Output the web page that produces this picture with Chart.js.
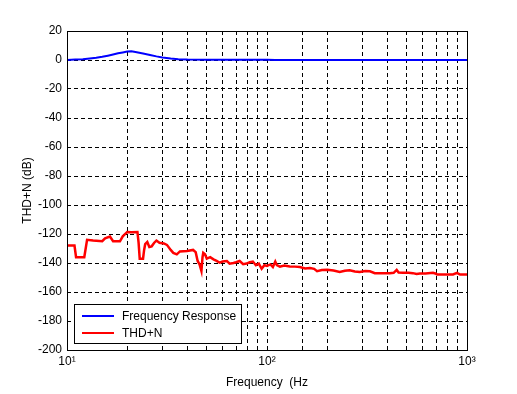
<!DOCTYPE html>
<html>
<head>
<meta charset="utf-8">
<script src="https://cdn.jsdelivr.net/npm/chart.js@4"></script>
<style>
  html, body { margin: 0; padding: 0; background: #fff; }
  #wrap { width: 517px; height: 394px; }
</style>
</head>
<body>
<div id="wrap"><canvas id="thdChart" width="517" height="394"></canvas></div>
<script>
// ---- data ----
const seriesNames = ["Frequency Response", "THD+N"];

const respFreq = [10, 11, 12, 13, 14, 15, 16, 17, 18, 19, 20, 21, 22, 24, 26, 28, 30, 33, 36, 40, 50, 60, 80, 100, 110, 200, 500, 1000];
const respDb   = [0, 0.3, 0.5, 1, 1.5, 2.2, 3, 3.8, 4.6, 5.2, 5.8, 6, 5.5, 4.5, 3.5, 2.5, 1.8, 1, 0.5, 0.3, 0.2, 0.2, 0.2, 0.2, 0, 0, 0, 0];

const thdFreq = [10, 10.9, 11.1, 12.2, 12.6, 13.5, 15, 15.5, 16.4, 17, 18.4, 19, 20, 21, 22.5, 22.8, 23.1, 24, 24.3, 24.6,
  25.2, 25.8, 26.5, 27.3, 28, 29, 30.5, 31.6, 33, 34, 35.4, 36.7, 39.8, 42.7, 44, 45, 46, 47, 47.6, 48,
  49, 50, 52, 54, 56, 58, 60, 63, 65, 68, 70, 73, 76, 79, 82, 85, 88, 91, 94, 97,
  100, 104, 107, 110, 112, 116, 122, 130, 138, 146, 155, 164, 172, 178, 188, 200, 215, 231, 245, 259,
  275, 291, 310, 327, 346, 380, 411, 430, 445, 455, 480, 510, 536, 560, 581, 620, 676, 700, 708, 800,
  851, 891, 923, 1000];
const thdDb = [-128, -128, -136, -136, -124, -124.5, -125, -123, -121.8, -125, -125, -121.6, -118.6, -118.8, -118.6, -126, -137, -137, -131, -127,
  -125.5, -129, -128.5, -126, -124.5, -126, -126.5, -127.5, -131, -133, -134, -132, -131.7, -131, -132.5, -138.6, -141, -145.5, -136, -133,
  -134, -137, -136, -137.5, -138.5, -139.8, -139, -138.6, -140.5, -140, -139.5, -138.6, -140.8, -140.4, -139.5, -139, -141.5, -140.5, -144, -141.5,
  -142, -141, -142.8, -139, -141.5, -142.5, -141.8, -142.4, -142.5, -142.8, -143.8, -143.4, -144, -145.6, -144.8, -144.6, -145.2, -146.2, -145.4, -145,
  -145.8, -146.2, -145.6, -145.7, -147, -147, -147, -146.8, -144.8, -146.6, -146.8, -146.8, -147, -147.6, -147.2, -147.2, -146.8, -147.4, -147.9, -147.9,
  -147.9, -146.8, -148, -148];

const decadeLabels = { 10: "10\u00B9", 100: "10\u00B2", 1000: "10\u00B3" };

const toPoints = (xs, ys) => xs.map((x, i) => ({ x, y: ys[i] }));

const FONT = "'Liberation Sans', Arial, sans-serif";

// frame around the plot + legend box in the lower-left corner (MATLAB style)
const matlabFrame = {
  id: "matlabFrame",
  afterDraw(chart) {
    const { ctx, chartArea: a } = chart;
    ctx.save();
    ctx.strokeStyle = "#000";
    ctx.lineWidth = 1;
    ctx.strokeRect(Math.round(a.left) + 0.5, Math.round(a.top) + 0.5,
      Math.round(a.right - a.left), Math.round(a.bottom - a.top));

    // legend
    const bx = a.left + 7, by = a.bottom - 46, bw = 167, bh = 39;
    ctx.fillStyle = "#fff";
    ctx.fillRect(bx, by, bw, bh);
    ctx.strokeRect(Math.round(bx) + 0.5, Math.round(by) + 0.5, bw, bh);
    ctx.font = "12px " + FONT;
    ctx.textBaseline = "middle";
    chart.data.datasets.forEach((ds, i) => {
      const y = by + 12 + i * 17;
      ctx.strokeStyle = ds.borderColor;
      ctx.lineWidth = 2;
      ctx.beginPath();
      ctx.moveTo(bx + 8, y);
      ctx.lineTo(bx + 40, y);
      ctx.stroke();
      ctx.fillStyle = "#000";
      ctx.fillText(ds.label, bx + 48, y + 1);
    });
    ctx.restore();
  },
};

new Chart(document.getElementById("thdChart"), {
  type: "line",
  data: {
    datasets: [
      {
        label: seriesNames[0],
        data: toPoints(respFreq, respDb),
        borderColor: "#0000ff",
        borderWidth: 2,
        pointRadius: 0,
        tension: 0,
      },
      {
        label: seriesNames[1],
        data: toPoints(thdFreq, thdDb),
        borderColor: "#ff0000",
        borderWidth: 2.5,
        pointRadius: 0,
        tension: 0,
      },
    ],
  },
  options: {
    responsive: false,
    animation: false,
    layout: { padding: { top: 31, right: 50, left: 0, bottom: 0 } },
    plugins: { legend: { display: false }, tooltip: { enabled: false } },
    scales: {
      x: {
        type: "logarithmic",
        min: 10,
        max: 1000,
        grid: { color: "#000", drawTicks: false },
        border: { display: false, dash: [4, 3] },
        ticks: {
          color: "#000",
          font: { family: FONT, size: 12 },
          padding: 4,
          maxRotation: 0,
          autoSkip: false,
          callback: (v) => decadeLabels[v] || "",
        },
        title: {
          display: true,
          text: "Frequency  (Hz",
          color: "#000",
          font: { family: FONT, size: 12 },
          padding: { top: 2 },
        },
        afterFit: (s) => { s.height = 44; },
      },
      y: {
        min: -200,
        max: 20,
        grid: { color: "#000", drawTicks: false },
        border: { display: false, dash: [4, 3] },
        ticks: {
          stepSize: 20,
          color: "#000",
          font: { family: FONT, size: 12 },
          padding: 5,
        },
        title: {
          display: true,
          text: "THD+N (dB)",
          color: "#000",
          font: { family: FONT, size: 12 },
          padding: { top: 20 },
        },
        afterFit: (s) => { s.width = 67; },
      },
    },
  },
  plugins: [matlabFrame],
});
</script>
</body>
</html>
